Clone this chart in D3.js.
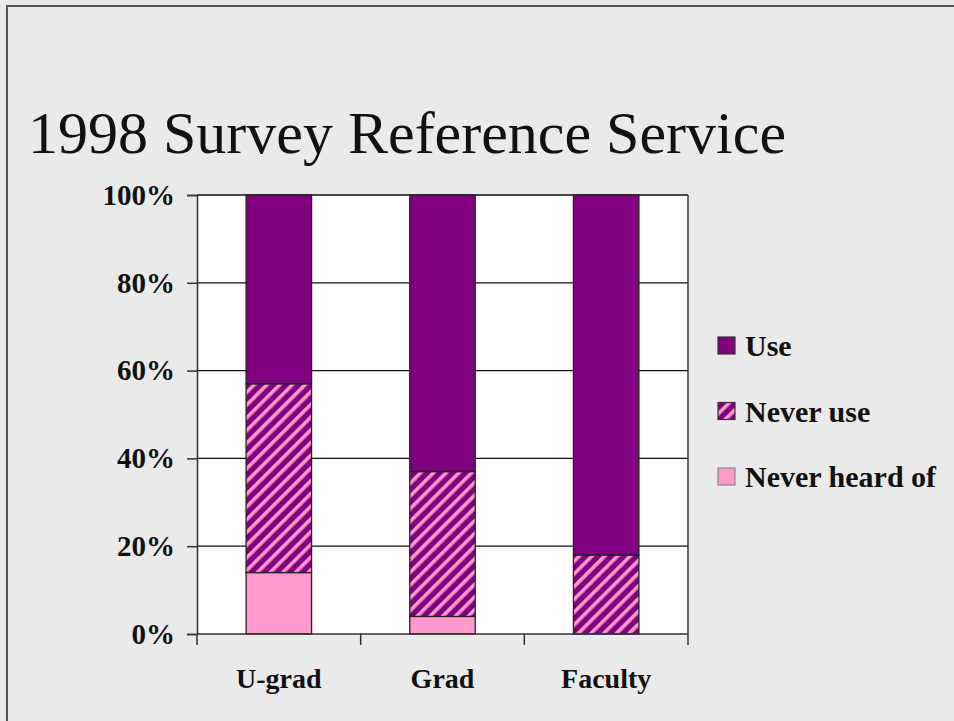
<!DOCTYPE html>
<html>
<head>
<meta charset="utf-8">
<script src="https://cdn.jsdelivr.net/npm/d3@7"></script>
<style>
  body { margin: 0; background: #eaeaea; }
  svg { display: block; }
  text { font-family: "Liberation Serif", "Times New Roman", serif; fill: #111; }
</style>
</head>
<body>
<svg id="svg" width="954" height="721"></svg>
<script>
/*********************
 * Data
 *********************/
const categories = ['U-grad', 'Grad', 'Faculty'];
const series = ['Never heard of', 'Never use', 'Use'];   // bottom -> top
const neverHeard = [14, 4, 0];
const neverUse = [43, 33, 18];
const use = [43, 63, 82];
const yTicks = [0, 20, 40, 60, 80, 100];
const legendOrder = ['Use', 'Never use', 'Never heard of'];

const rows = categories.map((c, i) => ({
  cat: c,
  'Never heard of': neverHeard[i],
  'Never use': neverUse[i],
  'Use': use[i]
}));

/*********************
 * Drawing
 *********************/
const svg = d3.select('#svg');
const W = 954, H = 721;
const plot = {left: 197, right: 688, top: 195, bottom: 634};

// slide background + frame (top & left edges only)
svg.append('rect').attr('width', W).attr('height', H).attr('fill', '#eaeaea');
svg.append('path')
  .attr('d', `M7,${H} V6 H${W}`)
  .attr('fill', 'none')
  .attr('stroke', '#555')
  .attr('stroke-width', 2);

// title
svg.append('text')
  .attr('x', 28)
  .attr('y', 153)
  .attr('font-size', 60)
  .text('1998 Survey Reference Service');

// hatch pattern
const defs = svg.append('defs');
const pat = defs.append('pattern')
  .attr('id', 'hatch')
  .attr('patternUnits', 'userSpaceOnUse')
  .attr('width', 9)
  .attr('height', 9)
  .attr('patternTransform', 'rotate(45)');
pat.append('rect').attr('width', 9).attr('height', 9).attr('fill', '#800080');
pat.append('rect').attr('width', 3.6).attr('height', 9).attr('fill', '#ff99cc');

const fills = {
  'Use': '#800080',
  'Never use': 'url(#hatch)',
  'Never heard of': '#ff99cc'
};

const x = d3.scaleBand()
  .domain(categories)
  .range([plot.left, plot.right])
  .paddingInner(0.6)
  .paddingOuter(0.3);

const y = d3.scaleLinear()
  .domain([0, 100])
  .range([plot.bottom, plot.top]);

// plot area
svg.append('rect')
  .attr('x', plot.left).attr('y', plot.top)
  .attr('width', plot.right - plot.left)
  .attr('height', plot.bottom - plot.top)
  .attr('fill', '#fff');

// gridlines
svg.append('g')
  .selectAll('line')
  .data(yTicks.filter(t => t > 0))
  .join('line')
  .attr('x1', plot.left).attr('x2', plot.right)
  .attr('y1', d => y(d)).attr('y2', d => y(d))
  .attr('stroke', '#111')
  .attr('stroke-width', 1.3);

// right edge of plot area
svg.append('line')
  .attr('x1', plot.right).attr('x2', plot.right)
  .attr('y1', plot.top).attr('y2', plot.bottom)
  .attr('stroke', '#333').attr('stroke-width', 1.5);

// stacked bars
const stack = d3.stack().keys(series)(rows);
svg.append('g')
  .selectAll('g')
  .data(stack)
  .join('g')
  .attr('fill', d => fills[d.key])
  .selectAll('rect')
  .data(d => d.filter(s => s[1] - s[0] > 0))
  .join('rect')
  .attr('x', d => x(d.data.cat))
  .attr('width', x.bandwidth())
  .attr('y', d => y(d[1]))
  .attr('height', d => y(d[0]) - y(d[1]))
  .attr('stroke', '#222')
  .attr('stroke-width', 1.3);

// y axis
const yAxis = svg.append('g')
  .attr('transform', `translate(${plot.left},0)`)
  .call(d3.axisLeft(y).tickValues(yTicks).tickFormat(d => d + '%').tickSize(10).tickPadding(12));
yAxis.select('.domain').attr('stroke', '#333').attr('stroke-width', 1.5);
yAxis.selectAll('.tick line').attr('stroke', '#333').attr('stroke-width', 1.5);
yAxis.selectAll('text')
  .attr('font-size', 29)
  .attr('font-weight', 'bold')
  .attr('font-family', '"Liberation Serif", serif')
  .attr('fill', '#111');

// x axis (ticks on band boundaries)
const xAxisG = svg.append('g');
xAxisG.append('line')
  .attr('x1', plot.left).attr('x2', plot.right)
  .attr('y1', plot.bottom).attr('y2', plot.bottom)
  .attr('stroke', '#333').attr('stroke-width', 1.5);
const bounds = categories.map(c => x(c) - x.step() * x.paddingInner() / 2 - (c === categories[0] ? x.step() * (x.paddingOuter() - x.paddingInner() / 2) : 0));
bounds.push(plot.right);
xAxisG.selectAll('line.tk')
  .data(bounds)
  .join('line')
  .attr('class', 'tk')
  .attr('x1', d => d).attr('x2', d => d)
  .attr('y1', plot.bottom).attr('y2', plot.bottom + 11)
  .attr('stroke', '#333').attr('stroke-width', 1.5);
xAxisG.selectAll('text')
  .data(categories)
  .join('text')
  .attr('x', d => x(d) + x.bandwidth() / 2)
  .attr('y', 688)
  .attr('text-anchor', 'middle')
  .attr('font-size', 28)
  .attr('font-weight', 'bold')
  .text(d => d);

// legend
const legendY = d3.scalePoint().domain(legendOrder).range([346, 477]);
const leg = svg.append('g')
  .selectAll('g')
  .data(legendOrder)
  .join('g')
  .attr('transform', d => `translate(718,${legendY(d)})`);
leg.append('rect')
  .attr('x', 0).attr('y', -9)
  .attr('width', 17).attr('height', 17)
  .attr('fill', d => fills[d])
  .attr('stroke', d => d === 'Never heard of' ? '#888' : '#333')
  .attr('stroke-width', 1.2);
leg.append('text')
  .attr('x', 27)
  .attr('y', 10)
  .attr('font-size', 30)
  .attr('font-weight', 'bold')
  .text(d => d);
</script>
</body>
</html>
